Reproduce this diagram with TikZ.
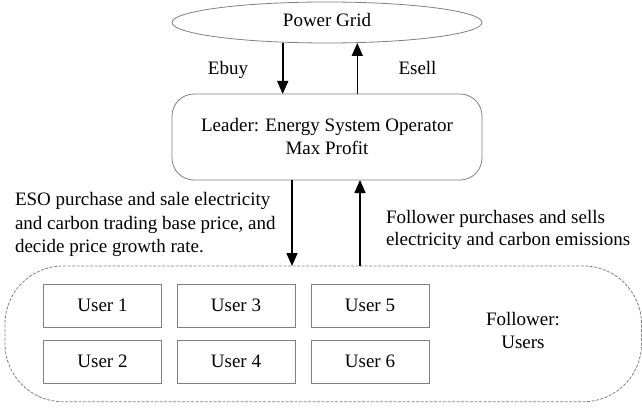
\documentclass[tikz,border=0pt]{standalone}
\usepackage{fontspec}
\setmainfont{Liberation Serif}
\usetikzlibrary{arrows.meta,shapes.geometric}
\definecolor{edgegray}{RGB}{128,128,128}
\begin{document}
\begin{tikzpicture}[x=1pt,y=-1pt,
  every node/.style={font=\fontsize{19}{23}\selectfont, inner sep=0pt, outer sep=0pt},
  flow/.style={line width=1.6pt, -{Triangle[length=13pt,width=11pt]}},
  userbox/.style={draw=edgegray, line width=0.8pt, minimum width=118pt, minimum height=43pt},
  lbl/.style={anchor=base}]
\useasboundingbox (0,0) rectangle (642,409);

% top level: the grid
\node[ellipse, draw=edgegray, line width=0.8pt, minimum width=310pt, minimum height=41pt, text depth=4.6pt] (grid) at (327,22.5) {Power Grid};

% leader
\node[draw=edgegray, line width=0.8pt, rounded corners=22pt, minimum width=310pt, minimum height=86pt, align=center] (leader) at (327,137)
  {Leader: Energy System Operator\\Max Profit};

% follower group
\node[draw=edgegray, line width=0.8pt, dash pattern=on 3pt off 1.5pt, rounded corners=58pt, minimum width=636.5pt, minimum height=135.7pt] (users) at (323.25,333.85) {};

\node[userbox] (u1) at (102.5,305.5) {User 1};
\node[userbox] (u3) at (236,305.5) {User 3};
\node[userbox] (u5) at (370,305.5) {User 5};
\node[userbox] (u2) at (102.5,361.5) {User 2};
\node[userbox] (u4) at (236,361.5) {User 4};
\node[userbox] (u6) at (370,361.5) {User 6};

\node[align=center] (fl) at (523,330) {Follower:\\Users};

% exchanges between grid and leader
\draw[flow] ([xshift=-44.3pt]grid.south) -- ([xshift=-44.3pt]leader.north);
\draw[flow] ([xshift=30.3pt]leader.north) -- ([xshift=30.3pt]grid.south);
\node[lbl] (ebuy) at (228,75) {Ebuy};
\node[lbl] (esell) at (417.5,75) {Esell};

% exchanges between leader and followers
\draw[flow] ([xshift=-35pt]leader.south) -- ([xshift=-31.25pt]users.north);
\draw[flow] ([xshift=36.75pt]users.north) -- ([xshift=33pt]leader.south);

\node[anchor=west, align=left, font=\fontsize{19}{23.5}\selectfont] (down) at (15,224.8)
  {ESO purchase and sale electricity\\and carbon trading base price, and\\decide price growth rate.};
\node[anchor=west, align=left, font=\fontsize{19}{22}\selectfont] (up) at (386,229.6)
  {Follower purchases and sells\\electricity and carbon emissions};
\end{tikzpicture}
\end{document}
